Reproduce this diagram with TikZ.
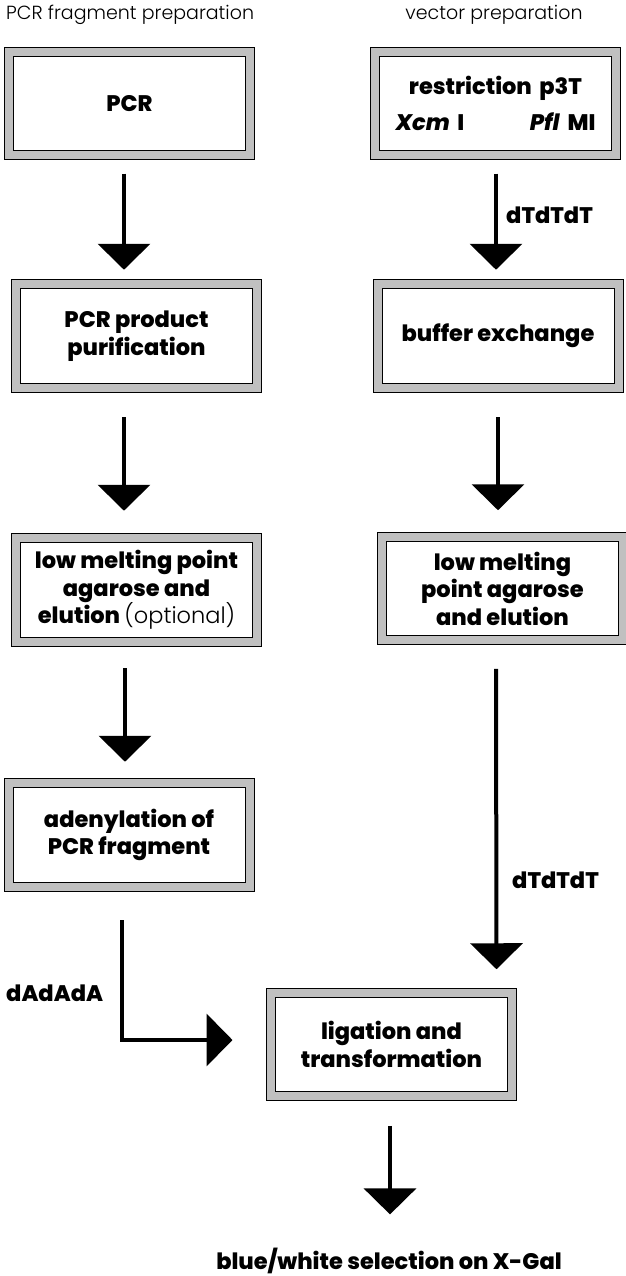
\documentclass[tikz,border=0pt]{standalone}
\usepackage{fontspec}
\setmainfont{Poppins}[BoldFont={Poppins ExtraBold},BoldItalicFont={Poppins ExtraBold Italic}]
\newfontfamily\lightfont{Poppins Light}
\usepackage{tikz}
\usetikzlibrary{arrows.meta,positioning,calc}
\definecolor{framegray}{RGB}{192,192,192}

\begin{document}
\begin{tikzpicture}[x=1pt,y=-1pt,
      every node/.style={font=\fontsize{22.5}{27.5}\selectfont\bfseries},
      stepbox/.style={draw,fill=white,line width=1pt,double=framegray,double distance=8pt,
                      minimum width=241pt,minimum height=103.5pt,align=center,inner sep=0pt},
      flow/.style={line width=4pt,-{Triangle[width=52pt,length=26pt]}},
      title/.style={font=\fontsize{19}{24}\selectfont\lightfont,anchor=base,inner sep=0pt},
      tag/.style={anchor=west,inner sep=0pt}
     ]
\useasboundingbox (0,0) rectangle (625,1276);
\node[title,anchor=base west] (leftTitle) at (6,20) {PCR fragment preparation};
\node[title] (rightTitle) at (494,20) {vector preparation};

\node[stepbox] (pcr) at (129.5,103.5) {PCR};
\node[stepbox,text width=200pt] (restrict) at (495.5,103.5)
    {restriction p3T\\[9pt]\textit{Xcm} I\hfill\textit{Pfl} MI};
\node[stepbox] (purify) at (136.5,336) {PCR product\\purification};
\node[stepbox] (buffer) at (498,336) {buffer exchange};
\node[stepbox] (lmpLeft) at (136.5,590)
    {low melting point\\agarose and\\elution {\lightfont\mdseries (optional)}};
\node[stepbox] (lmpRight) at (502.5,588.5) {low melting\\point agarose\\and elution};
\node[stepbox] (adenyl) at (129,835) {adenylation of\\PCR fragment};
\node[stepbox] (ligate) at (391.5,1044.5) {ligation and\\transformation};
\node[anchor=base,inner sep=0pt] (result) at (389,1269) {blue/white selection on X-Gal};

\node[tag] (dtTop) at (506,215) {dTdTdT};
\node[tag] (dtBottom) at (512,880) {dTdTdT};
\node[tag] (daLabel) at (6,993) {dAdAdA};

\draw[flow] ([xshift=-5.5pt,yshift=-18pt]pcr.south) -- ([xshift=-12.5pt,yshift=14pt]purify.north);
\draw[flow] ([xshift=0.5pt,yshift=-18pt]restrict.south) -- ([xshift=-2pt,yshift=14pt]buffer.north);
\draw[flow] ([xshift=-12.5pt,yshift=-29pt]purify.south) -- ([xshift=-12.5pt,yshift=27pt]lmpLeft.north);
\draw[flow] ([yshift=-29pt]buffer.south) -- ([xshift=-4.5pt,yshift=26pt]lmpRight.north);
\draw[flow] ([xshift=-11.5pt,yshift=-26pt]lmpLeft.south) -- ([xshift=-4pt,yshift=21pt]adenyl.north);
\draw[flow] ([xshift=-6.5pt,yshift=-28pt]lmpRight.south) -- ([xshift=-16pt,yshift=23pt]ligate.north east);
\draw[flow] ([xshift=-7pt,yshift=-33pt]adenyl.south) |- ([xshift=-38pt,yshift=4.5pt]ligate.west);
\draw[flow] ([xshift=-1.5pt,yshift=-29pt]ligate.south) -- ([xshift=1pt,yshift=33pt]result.north);
\end{tikzpicture}
\end{document}
